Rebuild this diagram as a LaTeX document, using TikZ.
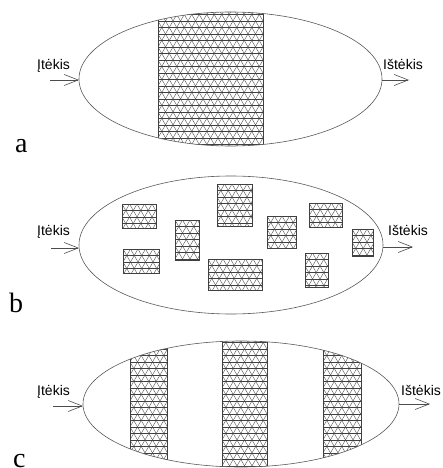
\documentclass[tikz,border=0pt]{standalone}
\usepackage{fontspec}
\setmainfont{Liberation Serif}
\newfontfamily\arialf{Liberation Sans}
\usetikzlibrary{arrows.meta}
\tikzset{
  outl/.style={draw=black!65, line width=0.6pt},
  meshln/.style={draw=black!75, line width=0.35pt},
  flow/.style={draw=black!70, line width=0.6pt, -{Straight Barb[length=14pt,width=11pt]}},
  lbl/.style={font=\arialf\fontsize{14}{16}\selectfont, anchor=base west, inner sep=0},
  tag/.style={font=\fontsize{28}{30}\selectfont, anchor=base west, inner sep=0},
  boxln/.style={draw=black!75, line width=0.6pt},
}
\newcommand{\trimesh}[4]{%
  \begin{scope}
    \clip (#1,#2) rectangle (#3,#4);
    \foreach \k in {0,...,24} {\draw[meshln] (#1,#2+\k*6.5) -- (#3,#2+\k*6.5);}
    \foreach \k in {-13,...,15} {\draw[meshln] (#1+\k*7.5,#2) -- ++(92.4,160);}
    \foreach \k in {0,...,27} {\draw[meshln] (#1+\k*7.5,#2) -- ++(-92.4,160);}
  \end{scope}
  \draw[boxln] (#1,#2) rectangle (#3,#4);
}
\begin{document}
\begin{tikzpicture}[x=1pt,y=-1pt]
\useasboundingbox (0,0) rectangle (443,468);

% ---------- panel a ----------
\begin{scope}
  \clip (230.5,79) ellipse [x radius=151.5, y radius=67];
  \trimesh{158}{8}{263}{150}
\end{scope}
\draw[outl] (230.5,79) ellipse [x radius=151.5, y radius=67];
\coordinate (ainS) at (50,80);
\coordinate (ainE) at (79,80);
\coordinate (aoutS) at (382,80);
\coordinate (aoutE) at (409,80);
\draw[flow] (ainS) -- (ainE);
\draw[flow] (aoutS) -- (aoutE);
\node[lbl] (ain) at (37,70) {Įtėkis};
\node[lbl] (aout) at (383,70) {Ištėkis};
\node[tag] (ta) at (15,152) {a};

% ---------- panel b ----------
\trimesh{122}{204}{156}{228}
\trimesh{175}{220}{199}{260}
\trimesh{217}{184}{252}{226}
\trimesh{123}{249}{159}{273}
\trimesh{208}{259}{262}{290}
\trimesh{267}{216}{296}{248}
\trimesh{309}{203}{342}{227}
\trimesh{305}{253}{328}{287}
\trimesh{352}{229}{373}{256}
\draw[outl] (231,245) ellipse [x radius=152, y radius=69];
\coordinate (binS) at (51,248);
\coordinate (binE) at (79,248);
\coordinate (boutS) at (383,247);
\coordinate (boutE) at (413,247);
\draw[flow] (binS) -- (binE);
\draw[flow] (boutS) -- (boutE);
\node[lbl] (bin) at (37,235) {Įtėkis};
\node[lbl] (bout) at (388,235) {Ištėkis};
\node[tag] (tb) at (9,312) {b};

% ---------- panel c ----------
\begin{scope}
  \clip (241,404) ellipse [x radius=158, y radius=63];
  \trimesh{130}{336}{167}{472}
  \trimesh{222}{336}{267}{472}
  \trimesh{323}{336}{361}{472}
\end{scope}
\draw[outl] (241,404) ellipse [x radius=158, y radius=63];
\coordinate (cinS) at (53,406);
\coordinate (cinE) at (83,406);
\coordinate (coutS) at (399,404);
\coordinate (coutE) at (430,404);
\draw[flow] (cinS) -- (cinE);
\draw[flow] (coutS) -- (coutE);
\node[lbl] (cin) at (37,395) {Įtėkis};
\node[lbl] (cout) at (401,395) {Ištėkis};
\node[tag] (tc) at (13,467) {c};
\end{tikzpicture}
\end{document}
